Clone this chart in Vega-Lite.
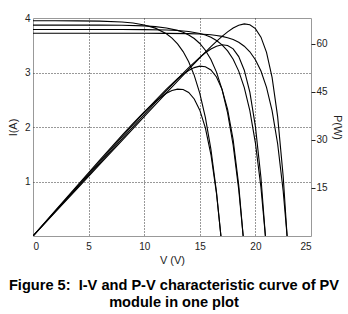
{
  "$schema": "https://vega.github.io/schema/vega-lite/v6.json",
  "width": 278,
  "height": 218,
  "autosize": {"type": "none"},
  "padding": {"left": 33, "top": 18, "right": 37, "bottom": 78},
  "background": "white",
  "title": {
    "text": ["Figure 5:\u00a0 I-V and P-V characteristic curve of PV", "module in one plot"],
    "orient": "bottom",
    "anchor": "middle",
    "font": "Liberation Sans",
    "fontSize": 14.6,
    "fontWeight": "bold",
    "lineHeight": 17,
    "offset": 13,
    "dx": 2,
    "color": "#000"
  },
  "config": {
    "view": {"stroke": "#999", "strokeWidth": 1},
    "axis": {
      "labelFont": "Liberation Sans",
      "labelFontSize": 10,
      "labelColor": "#222",
      "titleFont": "Liberation Sans",
      "titleFontWeight": "normal",
      "titleFontSize": 11,
      "titleColor": "#222",
      "domain": false,
      "ticks": false
    }
  },
  "data": {
    "values": [
      {"c": "T1", "V": 0, "I": 3.95, "P": 0},
      {"c": "T1", "V": 2, "I": 3.949, "P": 7.9},
      {"c": "T1", "V": 4, "I": 3.948, "P": 15.79},
      {"c": "T1", "V": 6, "I": 3.942, "P": 23.65},
      {"c": "T1", "V": 8, "I": 3.926, "P": 31.41},
      {"c": "T1", "V": 9, "I": 3.907, "P": 35.16},
      {"c": "T1", "V": 10, "I": 3.873, "P": 38.73},
      {"c": "T1", "V": 11, "I": 3.814, "P": 41.95},
      {"c": "T1", "V": 12, "I": 3.71, "P": 44.52},
      {"c": "T1", "V": 12.5, "I": 3.63, "P": 45.38},
      {"c": "T1", "V": 13, "I": 3.525, "P": 45.82},
      {"c": "T1", "V": 13.5, "I": 3.384, "P": 45.69},
      {"c": "T1", "V": 14, "I": 3.197, "P": 44.76},
      {"c": "T1", "V": 14.5, "I": 2.947, "P": 42.73},
      {"c": "T1", "V": 15, "I": 2.616, "P": 39.24},
      {"c": "T1", "V": 15.5, "I": 2.175, "P": 33.71},
      {"c": "T1", "V": 16, "I": 1.588, "P": 25.41},
      {"c": "T1", "V": 16.5, "I": 0.807, "P": 13.32},
      {"c": "T1", "V": 16.9, "I": 0, "P": 0},
      {"c": "T2", "V": 0, "I": 3.87, "P": 0},
      {"c": "T2", "V": 2, "I": 3.87, "P": 7.74},
      {"c": "T2", "V": 4, "I": 3.87, "P": 15.48},
      {"c": "T2", "V": 6, "I": 3.869, "P": 23.21},
      {"c": "T2", "V": 8, "I": 3.866, "P": 30.93},
      {"c": "T2", "V": 10, "I": 3.855, "P": 38.55},
      {"c": "T2", "V": 11, "I": 3.842, "P": 42.26},
      {"c": "T2", "V": 12, "I": 3.818, "P": 45.82},
      {"c": "T2", "V": 13, "I": 3.773, "P": 49.05},
      {"c": "T2", "V": 13.5, "I": 3.738, "P": 50.46},
      {"c": "T2", "V": 14, "I": 3.689, "P": 51.64},
      {"c": "T2", "V": 14.5, "I": 3.623, "P": 52.53},
      {"c": "T2", "V": 15, "I": 3.532, "P": 52.98},
      {"c": "T2", "V": 15.5, "I": 3.408, "P": 52.82},
      {"c": "T2", "V": 16, "I": 3.238, "P": 51.81},
      {"c": "T2", "V": 16.5, "I": 3.007, "P": 49.62},
      {"c": "T2", "V": 17, "I": 2.69, "P": 45.73},
      {"c": "T2", "V": 17.5, "I": 2.257, "P": 39.5},
      {"c": "T2", "V": 18, "I": 1.665, "P": 29.96},
      {"c": "T2", "V": 18.5, "I": 0.856, "P": 15.84},
      {"c": "T2", "V": 18.9, "I": 0, "P": 0},
      {"c": "T3", "V": 0, "I": 3.79, "P": 0},
      {"c": "T3", "V": 2, "I": 3.79, "P": 7.58},
      {"c": "T3", "V": 4, "I": 3.79, "P": 15.16},
      {"c": "T3", "V": 6, "I": 3.79, "P": 22.74},
      {"c": "T3", "V": 8, "I": 3.789, "P": 30.31},
      {"c": "T3", "V": 10, "I": 3.787, "P": 37.87},
      {"c": "T3", "V": 12, "I": 3.78, "P": 45.36},
      {"c": "T3", "V": 13, "I": 3.77, "P": 49.01},
      {"c": "T3", "V": 14, "I": 3.752, "P": 52.53},
      {"c": "T3", "V": 15, "I": 3.716, "P": 55.74},
      {"c": "T3", "V": 15.5, "I": 3.687, "P": 57.15},
      {"c": "T3", "V": 16, "I": 3.646, "P": 58.33},
      {"c": "T3", "V": 16.5, "I": 3.588, "P": 59.21},
      {"c": "T3", "V": 17, "I": 3.508, "P": 59.64},
      {"c": "T3", "V": 17.5, "I": 3.397, "P": 59.45},
      {"c": "T3", "V": 18, "I": 3.242, "P": 58.36},
      {"c": "T3", "V": 18.5, "I": 3.025, "P": 55.96},
      {"c": "T3", "V": 19, "I": 2.722, "P": 51.71},
      {"c": "T3", "V": 19.5, "I": 2.3, "P": 44.85},
      {"c": "T3", "V": 20, "I": 1.71, "P": 34.2},
      {"c": "T3", "V": 20.5, "I": 0.887, "P": 18.19},
      {"c": "T3", "V": 20.9, "I": 0, "P": 0},
      {"c": "T4", "V": 0, "I": 3.72, "P": 0},
      {"c": "T4", "V": 2, "I": 3.72, "P": 7.44},
      {"c": "T4", "V": 4, "I": 3.72, "P": 14.88},
      {"c": "T4", "V": 6, "I": 3.72, "P": 22.32},
      {"c": "T4", "V": 8, "I": 3.72, "P": 29.76},
      {"c": "T4", "V": 10, "I": 3.72, "P": 37.2},
      {"c": "T4", "V": 12, "I": 3.718, "P": 44.62},
      {"c": "T4", "V": 14, "I": 3.713, "P": 51.99},
      {"c": "T4", "V": 15, "I": 3.706, "P": 55.6},
      {"c": "T4", "V": 16, "I": 3.692, "P": 59.07},
      {"c": "T4", "V": 16.5, "I": 3.68, "P": 60.72},
      {"c": "T4", "V": 17, "I": 3.663, "P": 62.27},
      {"c": "T4", "V": 17.5, "I": 3.639, "P": 63.68},
      {"c": "T4", "V": 18, "I": 3.604, "P": 64.87},
      {"c": "T4", "V": 18.5, "I": 3.554, "P": 65.75},
      {"c": "T4", "V": 19, "I": 3.482, "P": 66.17},
      {"c": "T4", "V": 19.5, "I": 3.38, "P": 65.91},
      {"c": "T4", "V": 20, "I": 3.234, "P": 64.68},
      {"c": "T4", "V": 20.5, "I": 3.026, "P": 62.03},
      {"c": "T4", "V": 21, "I": 2.727, "P": 57.27},
      {"c": "T4", "V": 21.5, "I": 2.302, "P": 49.49},
      {"c": "T4", "V": 22, "I": 1.693, "P": 37.24},
      {"c": "T4", "V": 22.5, "I": 0.823, "P": 18.52},
      {"c": "T4", "V": 22.85, "I": 0, "P": 0}
    ]
  },
  "encoding": {
    "x": {
      "field": "V",
      "type": "quantitative",
      "scale": {"domain": [0, 25], "nice": false, "zero": false},
      "axis": {
        "title": "V (V)",
        "values": [0, 5, 10, 15, 20, 25],
        "grid": true,
        "gridDash": [1, 2],
        "gridColor": {"condition": {"test": "datum.value === 0 || datum.value === 25", "value": "transparent"}, "value": "#333"},
        "labelPadding": 5,
        "titlePadding": 3
      }
    }
  },
  "layer": [
    {
      "mark": {"type": "line", "color": "#000", "strokeWidth": 1.1, "clip": true},
      "encoding": {
        "y": {
          "field": "I",
          "type": "quantitative",
          "scale": {"domain": [0, 4], "nice": false},
          "axis": {
            "title": "I(A)",
            "orient": "left",
            "values": [1, 2, 3, 4],
            "grid": true,
            "gridDash": [1, 2],
            "gridColor": {"condition": {"test": "datum.value === 4", "value": "transparent"}, "value": "#333"},
            "labelPadding": 3,
            "titlePadding": 6
          }
        },
        "detail": {"field": "c"}
      }
    },
    {
      "mark": {"type": "line", "color": "#000", "strokeWidth": 1.1, "clip": true},
      "encoding": {
        "y": {
          "field": "P",
          "type": "quantitative",
          "scale": {"domain": [0, 68], "nice": false},
          "axis": {
            "title": "P(W)",
            "orient": "right",
            "values": [15, 30, 45, 60],
            "grid": false,
            "ticks": true,
            "tickSize": 4,
            "tickColor": "#222",
            "labelPadding": 1,
            "titlePadding": 4
          }
        },
        "detail": {"field": "c"}
      }
    }
  ],
  "resolve": {"scale": {"y": "independent"}}
}
